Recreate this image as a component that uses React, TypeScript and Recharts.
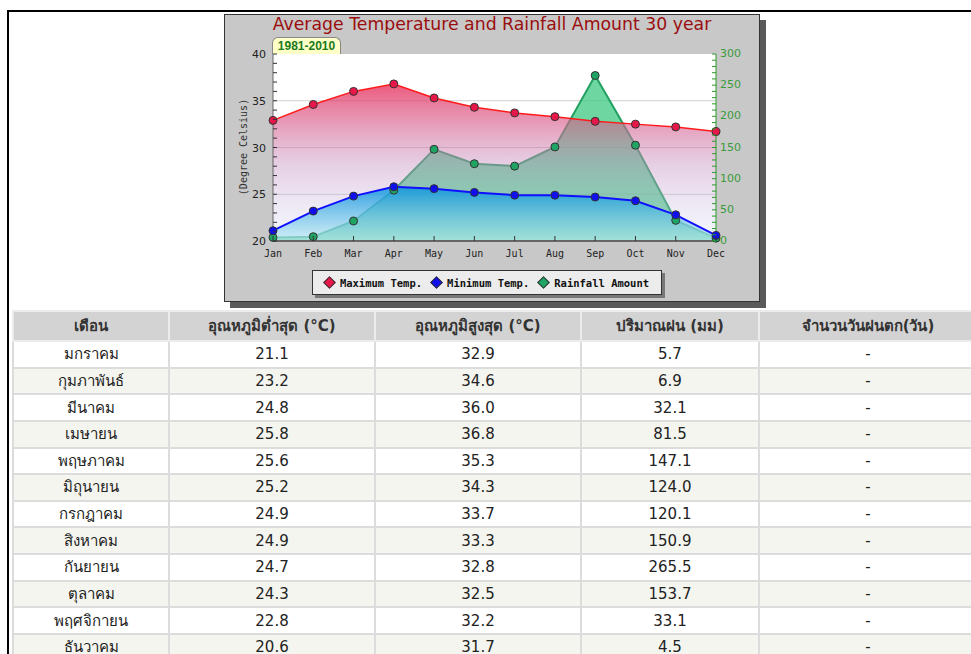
import React from 'react';
import { ComposedChart, Area, XAxis, YAxis, CartesianGrid } from 'recharts';

const months = ['Jan', 'Feb', 'Mar', 'Apr', 'May', 'Jun', 'Jul', 'Aug', 'Sep', 'Oct', 'Nov', 'Dec'];
const thaiMonths = ['มกราคม', 'กุมภาพันธ์', 'มีนาคม', 'เมษายน', 'พฤษภาคม', 'มิถุนายน', 'กรกฎาคม', 'สิงหาคม', 'กันยายน', 'ตุลาคม', 'พฤศจิกายน', 'ธันวาคม'];
const minTemp = [21.1, 23.2, 24.8, 25.8, 25.6, 25.2, 24.9, 24.9, 24.7, 24.3, 22.8, 20.6];
const maxTemp = [32.9, 34.6, 36.0, 36.8, 35.3, 34.3, 33.7, 33.3, 32.8, 32.5, 32.2, 31.7];
const rainfall = [5.7, 6.9, 32.1, 81.5, 147.1, 124.0, 120.1, 150.9, 265.5, 153.7, 33.1, 4.5];
const rainDays = ['-', '-', '-', '-', '-', '-', '-', '-', '-', '-', '-', '-'];

const tempTicks = Array.from({ length: 21 }, (_, i) => 20 + i);
const rainTicks = Array.from({ length: 31 }, (_, i) => i * 10);
const headers = ['เดือน', 'อุณหภูมิต่ำสุด (°C)', 'อุณหภูมิสูงสุด (°C)', 'ปริมาณฝน (มม)', 'จำนวนวันฝนตก(วัน)'];
const colWidths = [156, 206, 206, 178, 218];

const data = months.map((m, i) => ({ month: m, min: minTemp[i], max: maxTemp[i], rain: rainfall[i] }));

const legendItems = [
  { label: 'Maximum Temp.', color: '#e8174a' },
  { label: 'Minimum Temp.', color: '#1010ee' },
  { label: 'Rainfall Amount', color: '#1fa463' },
];

const LeftTick = ({ x, y, payload }: any) => {
  const major = payload.value % 5 === 0;
  return (
    <g>
      <line x1={x} x2={x + 4} y1={y} y2={y} stroke="#333" />
      {major && (
        <text x={x - 7} y={y + 4} textAnchor="end" fontSize={11} fontFamily="DejaVu Sans" fill="#222">
          {payload.value}
        </text>
      )}
    </g>
  );
};

const RightTick = ({ x, y, payload }: any) => {
  const major = payload.value % 50 === 0;
  return (
    <g>
      <line x1={x - 4} x2={x} y1={y} y2={y} stroke="#2a9a2a" />
      {major && (
        <text x={x + 4} y={y + 3} textAnchor="start" fontSize={11} fontFamily="DejaVu Sans" fill="#3a9a3a">
          {payload.value}
        </text>
      )}
    </g>
  );
};

const BottomTick = ({ x, y, payload }: any) => (
  <g>
    <line x1={x} x2={x} y1={y - 5} y2={y} stroke="#333" />
    <text x={x} y={y + 16} textAnchor="middle" fontSize={10} fontFamily="DejaVu Sans Mono" fill="#222">
      {payload.value}
    </text>
  </g>
);

export default function App() {
  return (
    <div style={{ position: 'absolute', left: 0, top: 0, width: 971, height: 654, overflow: 'hidden', background: '#fff' }}>
      <div style={{ position: 'absolute', left: 7, top: 10, width: 1000, height: 700, borderLeft: '2px solid #000', borderTop: '2px solid #000' }} />

      <div style={{ position: 'absolute', left: 224, top: 14, width: 536, height: 288, boxSizing: 'border-box', background: '#c8c8c8', border: '1px solid #333', boxShadow: '6px 6px 0 #5a5a5a' }}>
        <div style={{ position: 'absolute', left: -1, top: -1, width: 536, height: 288 }}>
          <div style={{ position: 'absolute', left: 0, top: 0, width: 536, textAlign: 'center', fontFamily: 'DejaVu Sans', fontSize: 17.3, color: '#9a0e0e' }}>
            Average Temperature and Rainfall Amount 30 year
          </div>
          <div style={{ position: 'absolute', left: 48, top: 23, width: 69, height: 17, boxSizing: 'border-box', background: '#ffffc8', border: '1px solid #888', borderBottom: 'none', borderRadius: '6px 6px 0 0', textAlign: 'center', fontFamily: 'Liberation Sans', fontWeight: 'bold', fontSize: 12, lineHeight: '16px', color: '#1a7a1a' }}>
            1981-2010
          </div>
          <div style={{ position: 'absolute', left: 19, top: 133, transform: 'translate(-50%, -50%) rotate(-90deg)', whiteSpace: 'nowrap', fontFamily: 'DejaVu Sans Mono', fontSize: 10, color: '#333' }}>
            (Degree Celsius)
          </div>

          <ComposedChart width={536} height={288} data={data} margin={{ top: 40, right: 0, bottom: 0, left: 0 }}>
            <defs>
              <linearGradient id="maxFill" x1="0" y1="0" x2="0" y2="1">
                <stop offset="0%" stopColor="#e8305c" stopOpacity={0.8} />
                <stop offset="50%" stopColor="#c890c0" stopOpacity={0.45} />
                <stop offset="100%" stopColor="#c8d8f8" stopOpacity={0.2} />
              </linearGradient>
              <linearGradient id="minFill" x1="0" y1="0" x2="0" y2="1">
                <stop offset="0%" stopColor="#0090e0" stopOpacity={0.8} />
                <stop offset="100%" stopColor="#b8e8f0" stopOpacity={0.6} />
              </linearGradient>
            </defs>
            <CartesianGrid yAxisId="left" vertical={false} horizontalValues={[25, 30, 35]} stroke="#cfcfcf" fill="#fff" />
            <XAxis dataKey="month" height={61} interval={0} tickSize={0} tickMargin={0} tick={<BottomTick />} axisLine={{ stroke: '#666', strokeWidth: 2 }} />
            <YAxis yAxisId="left" orientation="left" width={49} domain={[20, 40]} ticks={tempTicks} interval={0} tickSize={0} tickMargin={0} tick={<LeftTick />} axisLine={{ stroke: '#666' }} />
            <YAxis yAxisId="right" orientation="right" width={44} domain={[0, 300]} ticks={rainTicks} interval={0} tickSize={0} tickMargin={0} tick={<RightTick />} axisLine={{ stroke: '#2a9a2a' }} />
            <Area yAxisId="right" dataKey="rain" type="linear" stroke="#22a060" strokeWidth={2} fill="#3cc882" fillOpacity={0.75} dot={{ r: 4, fill: '#1fa463', stroke: '#333', strokeWidth: 1, fillOpacity: 1 }} isAnimationActive={false} />
            <Area yAxisId="left" dataKey="max" type="linear" stroke="#ff1a1a" strokeWidth={1.5} fill="url(#maxFill)" fillOpacity={1} dot={{ r: 4, fill: '#e8174a', stroke: '#333', strokeWidth: 1, fillOpacity: 1 }} isAnimationActive={false} />
            <Area yAxisId="left" dataKey="min" type="linear" stroke="#1010ff" strokeWidth={2} fill="url(#minFill)" fillOpacity={1} dot={{ r: 4, fill: '#1010ee', stroke: '#333', strokeWidth: 1, fillOpacity: 1 }} isAnimationActive={false} />
          </ComposedChart>

          <div style={{ position: 'absolute', left: 88, top: 256, width: 350, height: 25, boxSizing: 'border-box', background: '#ececec', border: '1px solid #333', boxShadow: '3px 3px 0 #777', display: 'flex', alignItems: 'center', justifyContent: 'center', gap: 10, fontFamily: 'DejaVu Sans Mono', fontWeight: 'bold', fontSize: 10.5, color: '#111' }}>
            {legendItems.map((it) => (
              <span key={it.label} style={{ display: 'flex', alignItems: 'center', gap: 6 }}>
                <span style={{ width: 7, height: 7, background: it.color, border: '1px solid #333', transform: 'rotate(45deg)', display: 'inline-block' }} />
                {it.label}
              </span>
            ))}
          </div>
        </div>
      </div>

      <table style={{ position: 'absolute', left: 12, top: 310, width: 964, borderCollapse: 'collapse', tableLayout: 'fixed', fontFamily: 'Tahoma, "DejaVu Sans", "Noto Sans", sans-serif', fontSize: 15, color: '#222' }}>
        <colgroup>
          {colWidths.map((w, i) => <col key={i} style={{ width: w }} />)}
        </colgroup>
        <thead>
          <tr>
            {headers.map((h) => (
              <th key={h} style={{ height: 28, padding: 0, background: '#d3d3d3', border: '2px solid #ececec', fontWeight: 'bold', color: '#333', textAlign: 'center' }}>{h}</th>
            ))}
          </tr>
        </thead>
        <tbody>
          {thaiMonths.map((m, i) => (
            <tr key={m} style={{ background: i % 2 === 0 ? '#ffffff' : '#f5f5ef' }}>
              {[m, minTemp[i].toFixed(1), maxTemp[i].toFixed(1), rainfall[i].toFixed(1), rainDays[i]].map((c, j) => (
                <td key={j} style={{ height: 24.64, padding: 0, border: '2px solid #dcdcdc', textAlign: 'center' }}>{c}</td>
              ))}
            </tr>
          ))}
        </tbody>
      </table>
    </div>
  );
}
